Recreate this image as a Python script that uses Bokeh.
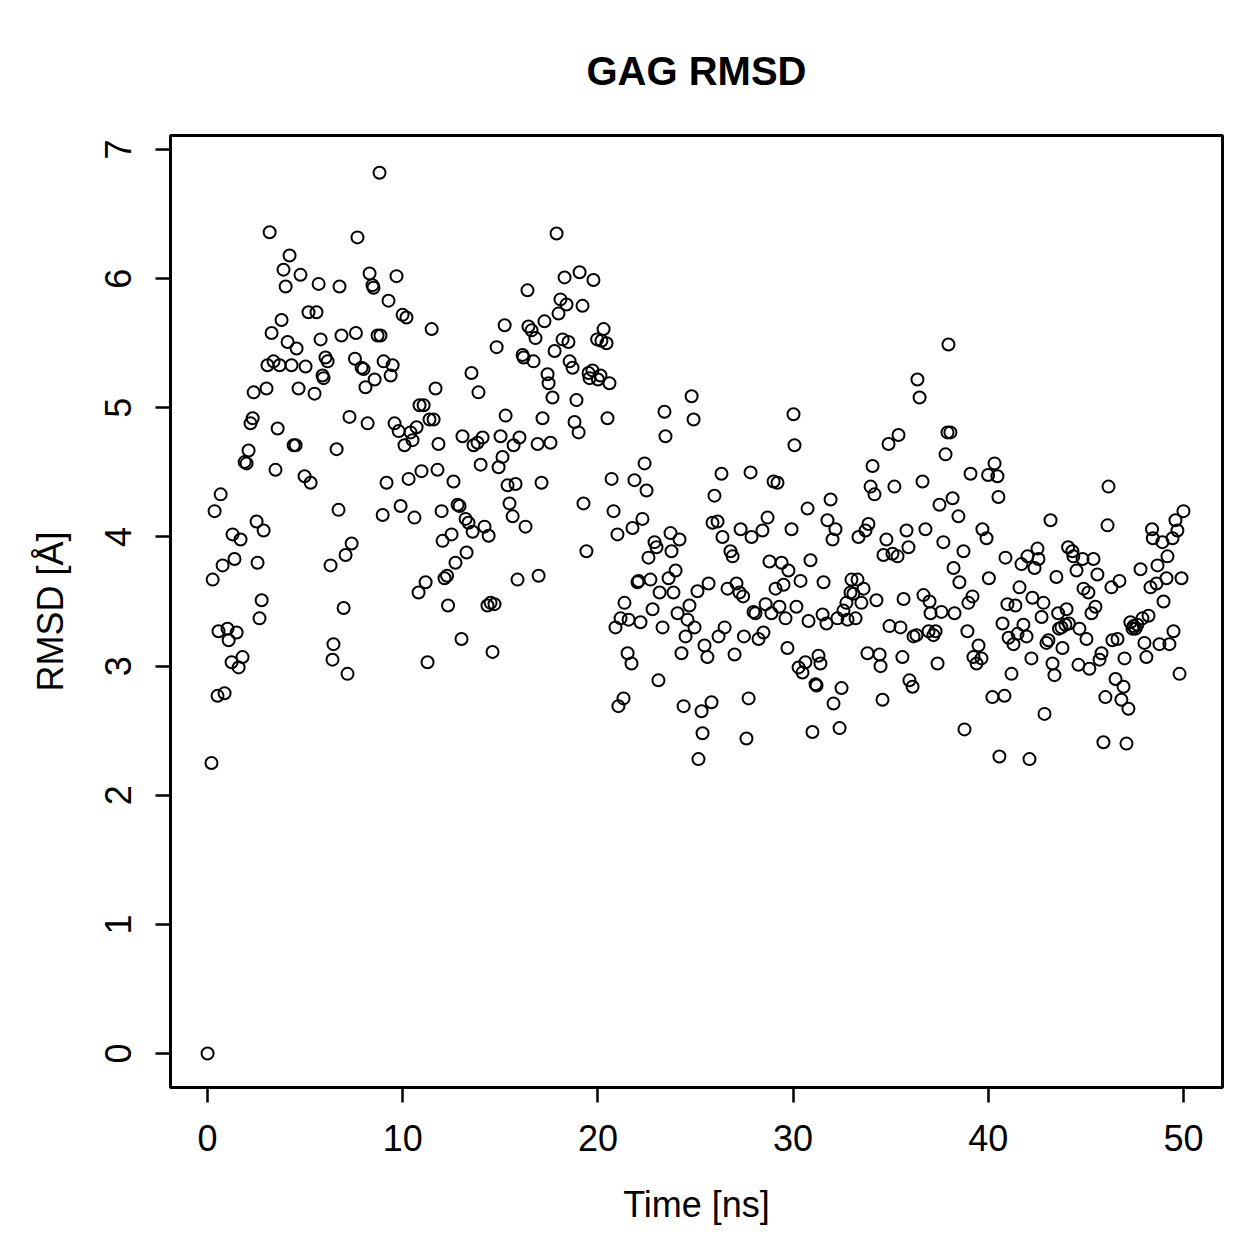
from bokeh.plotting import figure
from bokeh.models import Range1d, FixedTicker
from bokeh.embed import file_html
from bokeh.resources import INLINE

# Time [ns] and RMSD [Å]
time_ns = [0.0, 0.2, 0.26, 0.36, 0.51, 0.56, 0.67, 0.77, 0.87, 1.02, 1.08, 1.23, 1.28, 1.38, 1.49, 1.59, 1.69, 1.79, 1.9, 2.0,
           2.1, 2.2, 2.31, 2.36, 2.51, 2.56, 2.66, 2.77, 2.87, 3.02, 3.07, 3.18, 3.28, 3.38, 3.48, 3.59, 3.69, 3.79, 3.89, 4.0,
           4.1, 4.2, 4.3, 4.41, 4.51, 4.56, 4.66, 4.76, 4.97, 5.02, 5.17, 5.28, 5.48, 5.58, 5.69, 5.79, 5.89, 5.94, 6.04, 6.15,
           6.3, 6.4, 6.45, 6.61, 6.71, 6.76, 6.86, 6.97, 7.07, 7.17, 7.27, 7.38, 7.55, 7.6, 7.68, 7.89, 7.99, 8.09, 8.2, 8.3,
           8.45, 8.5, 8.56, 8.71, 8.81, 8.86, 8.97, 9.02, 9.17, 9.27, 9.38, 9.48, 9.58, 9.68, 9.79, 9.89, 9.99, 10.09, 10.19, 10.3,
           10.4, 10.5, 10.6, 10.71, 10.81, 10.86, 10.96, 11.07, 11.17, 11.27, 11.37, 11.48, 11.58, 11.68, 11.78, 11.83, 11.99, 12.04, 12.14, 12.27,
           12.32, 12.5, 12.6, 12.7, 12.81, 12.91, 13.01, 13.06, 13.22, 13.27, 13.37, 13.52, 13.58, 13.63, 13.83, 13.88, 13.99, 14.09, 14.19, 14.34,
           14.4, 14.5, 14.6, 14.7, 14.81, 14.91, 15.01, 15.11, 15.22, 15.27, 15.37, 15.47, 15.63, 15.68, 15.78, 15.88, 15.98, 16.14, 16.19, 16.29,
           16.39, 16.44, 16.6, 16.7, 16.8, 16.91, 16.96, 17.11, 17.16, 17.26, 17.42, 17.47, 17.57, 17.67, 17.78, 17.88, 17.98, 18.08, 18.19, 18.29,
           18.39, 18.49, 18.55, 18.7, 18.8, 18.9, 19.01, 19.06, 19.21, 19.26, 19.41, 19.52, 19.57, 19.72, 19.77, 19.96, 20.0, 20.13, 20.18, 20.29,
           20.44, 20.49, 20.59, 20.7, 20.8, 20.9, 21.0, 21.05, 21.16, 21.31, 21.36, 21.52, 21.57, 21.72, 21.77, 21.87, 22.03, 22.08, 22.18, 22.28,
           22.39, 22.49, 22.59, 22.69, 22.8, 22.9, 23.0, 23.1, 23.16, 23.31, 23.41, 23.46, 23.62, 23.72, 23.77, 23.87, 23.98, 24.08, 24.18, 24.28,
           24.39, 24.49, 24.59, 24.69, 24.8, 24.9, 24.95, 25.1, 25.15, 25.31, 25.36, 25.46, 25.61, 25.67, 25.82, 25.87, 25.97, 26.13, 26.18, 26.33,
           26.38, 26.49, 26.64, 26.79, 26.9, 27.0, 27.1, 27.25, 27.31, 27.44, 27.48, 27.61, 27.72, 27.82, 27.87, 27.97, 28.07, 28.23, 28.43, 28.48,
           28.59, 28.69, 28.79, 28.89, 29.0, 29.1, 29.2, 29.3, 29.41, 29.51, 29.61, 29.71, 29.76, 29.92, 30.02, 30.07, 30.17, 30.28, 30.38, 30.48,
           30.63, 30.74, 30.79, 30.89, 30.99, 31.15, 31.2, 31.3, 31.4, 31.51, 31.56, 31.71, 31.76, 31.92, 32.02, 32.07, 32.17, 32.27, 32.38, 32.48,
           32.58, 32.73, 32.79, 32.94, 32.99, 33.09, 33.2, 33.3, 33.35, 33.5, 33.61, 33.71, 33.81, 33.86, 33.97, 34.07, 34.17, 34.27, 34.43, 34.48,
           34.58, 34.63, 34.78, 34.89, 34.94, 35.09, 35.19, 35.35, 35.4, 35.5, 35.6, 35.66, 35.81, 35.91, 35.96, 36.12, 36.17, 36.32, 36.37, 36.48,
           36.63, 36.68, 36.78, 36.94, 36.99, 37.04, 37.19, 37.3, 37.4, 37.5, 37.6, 37.7, 37.81, 37.91, 37.96, 38.06, 38.17, 38.22, 38.27, 38.47,
           38.52, 38.73, 38.78, 38.93, 38.98, 39.09, 39.19, 39.24, 39.4, 39.5, 39.65, 39.7, 39.91, 39.99, 40.03, 40.21, 40.32, 40.47, 40.52, 40.57,
           40.73, 40.83, 40.88, 40.98, 41.04, 41.19, 41.29, 41.39, 41.5, 41.6, 41.7, 41.8, 41.96, 42.01, 42.11, 42.21, 42.26, 42.37, 42.52, 42.57,
           42.73, 42.83, 42.88, 42.98, 43.08, 43.19, 43.29, 43.39, 43.49, 43.58, 43.62, 43.75, 43.8, 43.95, 44.01, 44.09, 44.13, 44.31, 44.36, 44.52,
           44.62, 44.67, 44.83, 44.88, 45.03, 45.13, 45.18, 45.29, 45.39, 45.49, 45.59, 45.7, 45.8, 45.9, 46.0, 46.11, 46.16, 46.31, 46.36, 46.52,
           46.62, 46.72, 46.82, 46.93, 46.98, 47.08, 47.18, 47.28, 47.39, 47.44, 47.54, 47.64, 47.8, 47.9, 48.0, 48.1, 48.21, 48.31, 48.39, 48.43,
           48.62, 48.67, 48.77, 48.92, 48.98, 49.13, 49.18, 49.28, 49.44, 49.49, 49.59, 49.69, 49.8, 49.9, 50.0]

rmsd = [0.0, 2.25, 3.67, 4.2, 2.77, 3.27, 4.33, 3.78, 2.79, 3.29, 3.2, 3.03, 4.02, 3.83, 3.26, 2.99, 3.98, 3.07, 4.58, 4.57,
        4.67, 4.88, 4.92, 5.12, 4.12, 3.8, 3.37, 3.51, 4.05, 5.15, 5.33, 6.36, 5.58, 5.36, 4.52, 4.84, 5.33, 5.68, 6.07, 5.94,
        5.51, 6.18, 5.33, 4.71, 4.71, 5.46, 5.15, 6.03, 4.47, 5.32, 5.74, 4.42, 5.11, 5.74, 5.96, 5.53, 5.25, 5.23, 5.39, 5.36,
        3.78, 3.05, 3.17, 4.68, 4.21, 5.94, 5.56, 3.45, 3.86, 2.94, 4.93, 3.95, 5.38, 5.58, 6.32, 5.31, 5.3, 5.16, 4.88, 6.04,
        5.95, 5.93, 5.22, 5.56, 6.82, 5.56, 4.17, 5.36, 4.42, 5.83, 5.25, 5.33, 4.88, 6.02, 4.82, 4.24, 5.72, 4.71, 5.7, 4.45,
        4.81, 4.75, 4.15, 4.85, 3.57, 5.02, 4.51, 5.02, 3.65, 3.03, 4.91, 5.61, 4.91, 5.15, 4.52, 4.72, 4.2, 3.97, 3.68, 3.7,
        3.47, 4.02, 4.43, 3.8, 4.25, 4.24, 3.21, 4.78, 4.14, 3.88, 4.11, 5.27, 4.04, 4.71, 4.73, 5.12, 4.56, 4.77, 4.08, 3.47,
        4.01, 3.49, 3.11, 3.48, 5.47, 4.54, 4.78, 4.62, 5.64, 4.94, 4.4, 4.26, 4.16, 4.71, 4.41, 3.67, 4.77, 5.41, 5.39, 4.08,
        5.91, 5.63, 5.6, 5.36, 5.54, 4.72, 3.7, 4.42, 4.92, 5.67, 5.26, 5.19, 4.73, 5.08, 5.44, 6.35, 5.73, 5.84, 5.53, 6.01,
        5.8, 5.51, 5.36, 5.31, 4.89, 5.06, 4.81, 6.05, 5.79, 4.26, 3.89, 5.27, 5.23, 5.29, 5.99, 5.53, 5.22, 5.25, 5.52, 5.61,
        5.5, 4.92, 5.19, 4.45, 4.2, 3.3, 4.02, 2.69, 3.37, 2.75, 3.49, 3.1, 3.36, 3.02, 4.07, 4.44, 3.65, 3.66, 3.34, 4.14,
        4.57, 4.36, 3.84, 3.67, 3.44, 3.96, 3.92, 2.89, 3.57, 3.3, 4.97, 4.78, 3.68, 4.03, 3.89, 3.57, 3.74, 3.41, 3.98, 3.1,
        2.69, 3.23, 3.36, 3.47, 5.09, 4.91, 3.3, 3.58, 2.28, 2.65, 2.48, 3.16, 3.07, 3.64, 2.72, 4.11, 4.32, 4.12, 3.23, 4.49,
        4.0, 3.3, 3.6, 3.89, 3.85, 3.09, 3.64, 3.57, 4.06, 3.54, 3.23, 2.44, 2.75, 4.5, 4.0, 3.42, 3.41, 3.21, 4.05, 3.26,
        3.48, 4.15, 3.81, 3.41, 4.43, 3.6, 4.42, 3.46, 3.8, 3.63, 3.37, 3.14, 3.74, 4.06, 4.95, 4.71, 3.46, 2.99, 3.66, 2.95,
        3.03, 4.22, 3.35, 3.82, 2.49, 2.86, 2.85, 3.08, 3.02, 3.4, 3.65, 3.33, 4.13, 4.29, 3.98, 2.71, 4.06, 3.37, 2.52, 2.83,
        3.43, 3.49, 3.36, 3.57, 3.67, 3.56, 3.37, 3.67, 4.0, 3.49, 3.6, 4.05, 3.1, 4.1, 4.39, 4.55, 4.33, 3.51, 3.09, 3.0,
        2.74, 3.86, 3.98, 4.72, 3.31, 3.87, 4.39, 3.85, 4.79, 3.3, 3.07, 3.52, 4.05, 3.92, 2.89, 2.84, 3.23, 3.24, 5.22, 5.08,
        4.43, 3.55, 4.06, 3.27, 3.5, 3.41, 3.24, 3.27, 3.02, 4.25, 3.42, 3.96, 4.64, 4.81, 5.49, 4.81, 4.3, 3.76, 3.41, 4.16,
        3.65, 3.89, 2.51, 3.27, 3.49, 4.49, 3.54, 3.07, 3.02, 3.16, 3.06, 4.06, 3.99, 4.48, 3.68, 2.76, 4.57, 4.47, 4.31, 2.3,
        3.33, 2.77, 3.84, 3.48, 3.22, 2.94, 3.17, 3.47, 3.25, 3.61, 3.79, 3.32, 3.23, 3.85, 2.28, 3.06, 3.53, 3.76, 3.91, 3.83,
        3.38, 3.49, 2.63, 3.18, 3.2, 4.13, 3.02, 2.93, 3.69, 3.41, 3.29, 3.3, 3.14, 3.32, 3.44, 3.92, 3.33, 3.89, 3.85, 3.74,
        3.01, 3.29, 3.83, 3.6, 3.21, 3.57, 2.98, 3.41, 3.83, 3.46, 3.71, 3.05, 3.1, 2.41, 2.76, 4.09, 4.39, 3.61, 3.2, 2.9,
        3.21, 3.66, 2.74, 2.84, 3.06, 2.4, 2.67, 3.34, 3.29, 3.31, 3.29, 3.32, 3.75, 3.37, 3.18, 3.07, 3.39, 3.61, 4.06, 3.99,
        3.64, 3.78, 3.17, 3.96, 3.5, 3.68, 3.85, 3.17, 3.99, 3.27, 4.13, 4.05, 2.94, 3.68, 4.2]

x_ticks = [0, 10, 20, 30, 40, 50]
y_ticks = [0, 1, 2, 3, 4, 5, 6, 7]

FONT = "Liberation Sans"

p = figure(width=1259, height=1259, output_backend="svg", toolbar_location=None,
           x_range=Range1d(-1.9, 52.0), y_range=Range1d(-0.263, 7.109),
           min_border_left=170, min_border_right=37, min_border_top=135, min_border_bottom=172,
           title="GAG RMSD")

p.background_fill_color = "white"
p.border_fill_color = "white"
p.outline_line_color = "black"
p.outline_line_width = 3
p.xgrid.visible = False
p.ygrid.visible = False

p.title.align = "center"
p.title.text_font = FONT
p.title.text_font_size = "40px"
p.title.text_font_style = "bold"
p.title.text_color = "black"
p.title.standoff = 85

p.scatter(time_ns, rmsd, marker="circle", size=12, fill_color=None,
          line_color="black", line_width=2)

for ax in (p.xaxis[0], p.yaxis[0]):
    ax.axis_line_color = None
    ax.major_tick_in = 0
    ax.major_tick_out = 15
    ax.major_tick_line_width = 2.5
    ax.major_tick_line_color = "black"
    ax.minor_tick_line_color = None
    ax.major_label_text_font = FONT
    ax.major_label_text_font_size = "36px"
    ax.major_label_text_color = "black"
    ax.axis_label_text_font = FONT
    ax.axis_label_text_font_size = "36px"
    ax.axis_label_text_font_style = "normal"
    ax.axis_label_text_color = "black"

p.xaxis[0].ticker = FixedTicker(ticks=x_ticks)
p.yaxis[0].ticker = FixedTicker(ticks=y_ticks)
p.xaxis[0].axis_label = "Time [ns]"
p.yaxis[0].axis_label = "RMSD [Å]"
p.xaxis[0].major_label_standoff = 22
p.xaxis[0].axis_label_standoff = 30
p.yaxis[0].major_label_orientation = "vertical"
p.yaxis[0].major_label_standoff = 24
p.yaxis[0].axis_label_standoff = 32

open("out.html", "w").write(file_html(p, INLINE))
